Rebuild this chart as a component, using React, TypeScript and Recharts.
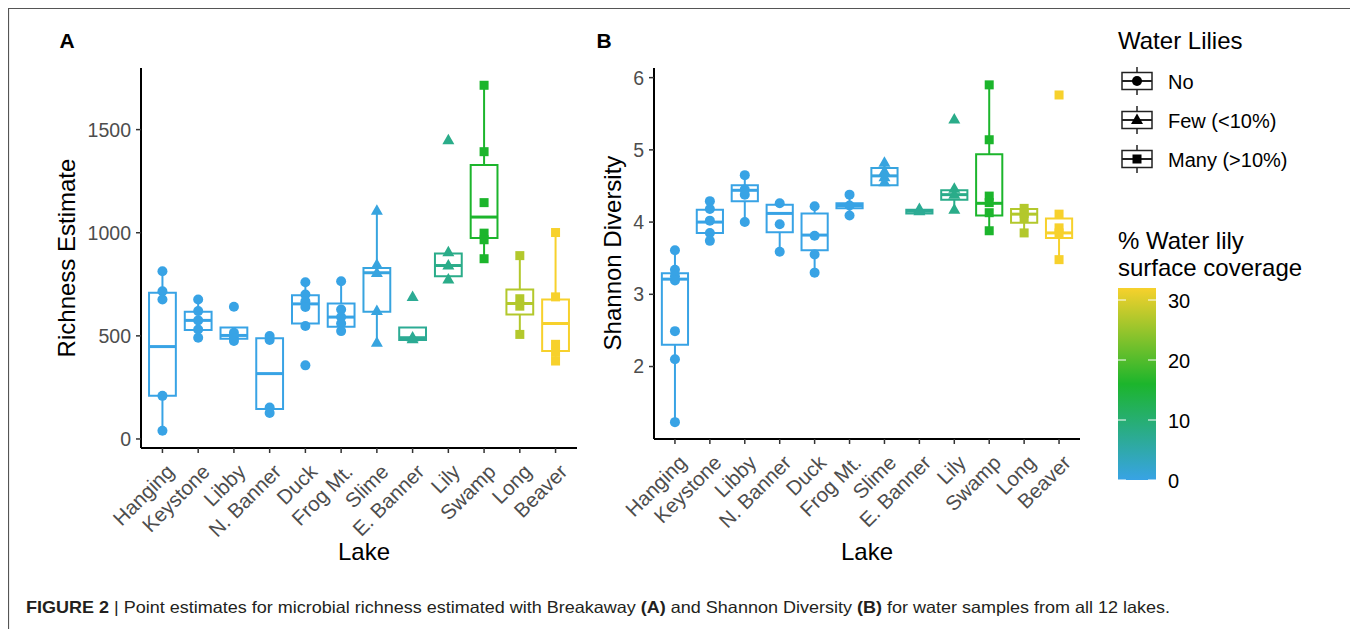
import React from 'react';
import { ComposedChart, XAxis, YAxis, Scatter, ReferenceArea, ReferenceLine } from 'recharts';

const FONT = '"Liberation Sans", Arial, Helvetica, sans-serif';

// ---------- data ----------
const lakes = ['Hanging', 'Keystone', 'Libby', 'N. Banner', 'Duck', 'Frog Mt.', 'Slime', 'E. Banner', 'Lily', 'Swamp', 'Long', 'Beaver'];
const waterLilies = ['No', 'No', 'No', 'No', 'No', 'No', 'Few', 'Few', 'Few', 'Many', 'Many', 'Many'];
const lilyCoverage = [0, 0, 0, 0, 0, 0, 0.5, 7, 8, 16, 27, 32];

const richnessPoints = [
  [813, 716, 676, 209, 40],
  [676, 620, 575, 531, 491],
  [641, 515, 490, 475],
  [499, 480, 153, 126],
  [760, 700, 668, 640, 548, 357],
  [765, 628, 591, 560, 523],
  [1106, 845, 805, 620, 467],
  [689, 492, 483],
  [1449, 905, 841, 773],
  [1715, 1393, 1146, 998, 966, 874],
  [889, 680, 644, 507],
  [1001, 689, 459, 420, 378],
];
const richnessLower = [40, 491, 475, 126, 540, 523, 467, 480, 773, 874, 507, 378];
const richnessQ1 = [209, 528, 486, 145, 560, 544, 617, 480, 789, 974, 604, 427];
const richnessMedian = [448, 575, 502, 317, 655, 591, 806, 491, 841, 1076, 657, 560];
const richnessQ3 = [709, 617, 540, 488, 697, 657, 829, 540, 899, 1329, 725, 676];
const richnessUpper = [813, 676, 540, 499, 760, 765, 1106, 540, 905, 1715, 889, 1001];
const richnessTicks = [0, 500, 1000, 1500];

const shannonPoints = [
  [3.61, 3.34, 3.25, 3.19, 2.49, 2.10, 1.23],
  [4.29, 4.18, 4.02, 3.85, 3.74],
  [4.65, 4.45, 4.38, 4.0],
  [4.26, 3.97, 3.59],
  [4.22, 3.81, 3.55, 3.30],
  [4.38, 4.23, 4.09],
  [4.82, 4.70, 4.62, 4.55],
  [4.18, 4.15],
  [5.42, 4.46, 4.38, 4.17],
  [5.90, 5.14, 4.36, 4.27, 4.13, 3.88],
  [4.19, 4.12, 4.05, 3.85],
  [5.76, 4.11, 3.92, 3.85, 3.48],
];
const shannonLower = [1.23, 3.74, 4.0, 3.59, 3.30, 4.09, 4.51, 4.12, 4.17, 3.88, 3.85, 3.48];
const shannonQ1 = [2.30, 3.85, 4.29, 3.86, 3.61, 4.19, 4.51, 4.12, 4.31, 4.09, 3.99, 3.78];
const shannonMedian = [3.21, 4.0, 4.44, 4.12, 3.82, 4.23, 4.64, 4.15, 4.38, 4.26, 4.11, 3.85];
const shannonQ3 = [3.29, 4.17, 4.51, 4.24, 4.12, 4.26, 4.75, 4.17, 4.44, 4.94, 4.18, 4.05];
const shannonUpper = [3.61, 4.29, 4.65, 4.26, 4.22, 4.38, 4.82, 4.18, 4.46, 5.90, 4.19, 4.11];
const shannonTicks = [2, 3, 4, 5, 6];

const legendLevels = ['No', 'Few', 'Many'];
const legendLabels = ['No', 'Few (<10%)', 'Many (>10%)'];
const coverageTicks = [0, 10, 20, 30];
const coverageMax = 32;

// ---------- styling helpers ----------
const GRAD: [number, number[]][] = [
  [0, [56, 163, 229]],
  [0.5, [28, 181, 44]],
  [1, [247, 209, 44]],
];
function coverageColor(v: number) {
  const t = Math.max(0, Math.min(1, v / coverageMax));
  for (let k = 0; k < GRAD.length - 1; k++) {
    const [a, ca] = GRAD[k];
    const [b, cb] = GRAD[k + 1];
    if (t <= b) {
      const f = (t - a) / (b - a);
      const c = ca.map((x, j) => Math.round(x + (cb[j] - x) * f));
      return `rgb(${c[0]},${c[1]},${c[2]})`;
    }
  }
  return 'rgb(247,209,44)';
}
const shapeFor = (level: string) => (level === 'No' ? 'circle' : level === 'Few' ? 'triangle' : 'square');

function Marker({ cx, cy, kind, color }: any) {
  if (kind === 'circle') return <circle cx={cx} cy={cy} r={5} fill={color} />;
  if (kind === 'triangle')
    return <polygon points={`${cx},${cy - 6.5} ${cx - 6},${cy + 4} ${cx + 6},${cy + 4}`} fill={color} />;
  return <rect x={cx - 4.5} y={cy - 4.5} width={9} height={9} fill={color} />;
}

const XTick = (props: any) => {
  const { x, y, payload } = props;
  const ax = x + 13;
  const ay = y + 18;
  return (
    <text x={ax} y={ay} textAnchor="end" fontSize={20.5} fill="#4d4d4d" fontFamily={FONT} transform={`rotate(-45 ${ax} ${ay})`}>
      {lakes[payload.value]}
    </text>
  );
};

function BoxPanel({ points, lower, q1, median, q3, upper, ticks, width, height, margin }: any) {
  const data = (points as number[][]).flatMap((arr, i) => arr.map((v) => ({ x: i, y: v, lake: i })));
  const ys = data.map((d) => d.y);
  const lo = Math.min(...ys);
  const hi = Math.max(...ys);
  const pad = (hi - lo) * 0.05;
  const hw = 0.375;
  const marks = lakes.flatMap((_, i) => {
    const c = coverageColor(lilyCoverage[i]);
    return [
      <ReferenceLine key={`wu${i}`} segment={[{ x: i, y: q3[i] }, { x: i, y: upper[i] }]} stroke={c} strokeWidth={2} />,
      <ReferenceLine key={`wl${i}`} segment={[{ x: i, y: q1[i] }, { x: i, y: lower[i] }]} stroke={c} strokeWidth={2} />,
      <ReferenceArea key={`b${i}`} x1={i - hw} x2={i + hw} y1={q1[i]} y2={q3[i]} fill="#ffffff" fillOpacity={1} stroke={c} strokeWidth={2} strokeOpacity={1} />,
      <ReferenceLine key={`m${i}`} segment={[{ x: i - hw, y: median[i] }, { x: i + hw, y: median[i] }]} stroke={c} strokeWidth={3} />,
    ];
  });
  return (
    <ComposedChart width={width} height={height} margin={margin}>
      <XAxis
        type="number"
        dataKey="x"
        domain={[-0.6, lakes.length - 0.4]}
        ticks={lakes.map((_, i) => i)}
        interval={0}
        allowDataOverflow
        tick={<XTick />}
        tickSize={5}
        tickMargin={2}
        height={100}
        axisLine={{ stroke: '#000', strokeWidth: 2 }}
        tickLine={{ stroke: '#333', strokeWidth: 1.5 }}
      />
      <YAxis
        type="number"
        dataKey="y"
        domain={[lo - pad, hi + pad]}
        ticks={ticks}
        allowDataOverflow
        width={60}
        tickSize={5}
        tickMargin={5}
        tick={{ fontSize: 19.5, fill: '#4d4d4d', fontFamily: FONT }}
        axisLine={{ stroke: '#000', strokeWidth: 2 }}
        tickLine={{ stroke: '#333', strokeWidth: 1.5 }}
      />
      {marks}
      <Scatter
        data={data}
        isAnimationActive={false}
        shape={(p: any) => (
          <Marker cx={p.cx} cy={p.cy} kind={shapeFor(waterLilies[p.payload.lake])} color={coverageColor(lilyCoverage[p.payload.lake])} />
        )}
      />
    </ComposedChart>
  );
}

function LegendKey({ cx, cy, kind }: any) {
  return (
    <g>
      <line x1={cx} y1={cy - 14} x2={cx} y2={cy + 14} stroke="#222" strokeWidth={1.5} />
      <rect x={cx - 15} y={cy - 8.5} width={30} height={17} fill="#fff" stroke="#222" strokeWidth={1.5} />
      <line x1={cx - 15} y1={cy} x2={cx + 15} y2={cy} stroke="#222" strokeWidth={2} />
      <Marker cx={cx} cy={cy} kind={kind} color="#000" />
    </g>
  );
}

export default function App() {
  const barX = 1110;
  const barY = 280;
  const barH = 192;
  const barW = 38;
  return (
    <div style={{ position: 'relative', width: 1350, height: 621, overflow: 'hidden', fontFamily: FONT, background: '#fff' }}>
      <style>{'html,body{overflow:hidden;}'}</style>
      <div style={{ position: 'absolute', left: 12, top: 52 }}>
        <BoxPanel
          points={richnessPoints}
          lower={richnessLower}
          q1={richnessQ1}
          median={richnessMedian}
          q3={richnessQ3}
          upper={richnessUpper}
          ticks={richnessTicks}
          width={580}
          height={540}
          margin={{ top: 8, right: 23, bottom: 52, left: 61 }}
        />
      </div>
      <div style={{ position: 'absolute', left: 552, top: 52 }}>
        <BoxPanel
          points={shannonPoints}
          lower={shannonLower}
          q1={shannonQ1}
          median={shannonMedian}
          q3={shannonQ3}
          upper={shannonUpper}
          ticks={shannonTicks}
          width={540}
          height={520}
          margin={{ top: 8, right: 20, bottom: 41, left: 34 }}
        />
      </div>
      <svg width={1350} height={621} style={{ position: 'absolute', left: 0, top: 0, pointerEvents: 'none' }} fontFamily={FONT}>
        <defs>
          <linearGradient id="covgrad" x1="0" y1="1" x2="0" y2="0">
            <stop offset="0" stopColor="rgb(56,163,229)" />
            <stop offset="0.5" stopColor="rgb(28,181,44)" />
            <stop offset="1" stopColor="rgb(247,209,44)" />
          </linearGradient>
        </defs>
        {/* frame */}
        <line x1={0.5} y1={0} x2={0.5} y2={621} stroke="#555" strokeWidth={1.2} />
        <line x1={0} y1={0.5} x2={1348} y2={0.5} stroke="#555" strokeWidth={1.2} />
        <line x1={1347.5} y1={0} x2={1347.5} y2={621} stroke="#777" strokeWidth={2} />

        {/* panel labels */}
        <text x={59} y={32} textAnchor="middle" dominantBaseline="central" fontSize={21} fontWeight="bold" fill="#000">A</text>
        <text x={596} y={32} textAnchor="middle" dominantBaseline="central" fontSize={21} fontWeight="bold" fill="#000">B</text>

        {/* axis titles */}
        <text x={58} y={250} textAnchor="middle" dominantBaseline="central" fontSize={24} fill="#000" transform="rotate(-90 58 250)">Richness Estimate</text>
        <text x={604} y={245} textAnchor="middle" dominantBaseline="central" fontSize={24} fill="#000" transform="rotate(-90 604 245)">Shannon Diversity</text>
        <text x={356} y={543} textAnchor="middle" dominantBaseline="central" fontSize={24} fill="#000">Lake</text>
        <text x={859} y={543} textAnchor="middle" dominantBaseline="central" fontSize={24} fill="#000">Lake</text>

        {/* shape legend */}
        <text x={1110} y={32} dominantBaseline="central" fontSize={24} fill="#000">Water Lilies</text>
        {legendLevels.map((lv, k) => (
          <g key={lv}>
            <LegendKey cx={1129} cy={73 + k * 39} kind={shapeFor(lv)} />
            <text x={1160} y={74 + k * 39} dominantBaseline="central" fontSize={20} fill="#000">{legendLabels[k]}</text>
          </g>
        ))}

        {/* colour bar */}
        <text x={1110} y={232} dominantBaseline="central" fontSize={24} fill="#000">% Water lily</text>
        <text x={1110} y={259} dominantBaseline="central" fontSize={24} fill="#000">surface coverage</text>
        <rect x={barX} y={barY} width={barW} height={barH} fill="url(#covgrad)" />
        {coverageTicks.map((t) => {
          const yy = barY + barH - (t / coverageMax) * barH;
          return (
            <g key={t}>
              <line x1={barX} y1={yy} x2={barX + 8} y2={yy} stroke="#fff" strokeWidth={1} />
              <line x1={barX + barW - 8} y1={yy} x2={barX + barW} y2={yy} stroke="#fff" strokeWidth={1} />
              <text x={1160} y={yy + 1} dominantBaseline="central" fontSize={20} fill="#000">{t}</text>
            </g>
          );
        })}

        {/* caption */}
        <text x={18} y={605} fontSize={16.5} fill="#231f20" textLength={1144} lengthAdjust="spacingAndGlyphs">
          <tspan fontWeight="bold">FIGURE 2</tspan>
          <tspan> | Point estimates for microbial richness estimated with Breakaway </tspan>
          <tspan fontWeight="bold">(A)</tspan>
          <tspan> and Shannon Diversity </tspan>
          <tspan fontWeight="bold">(B)</tspan>
          <tspan> for water samples from all 12 lakes.</tspan>
        </text>
      </svg>
    </div>
  );
}
